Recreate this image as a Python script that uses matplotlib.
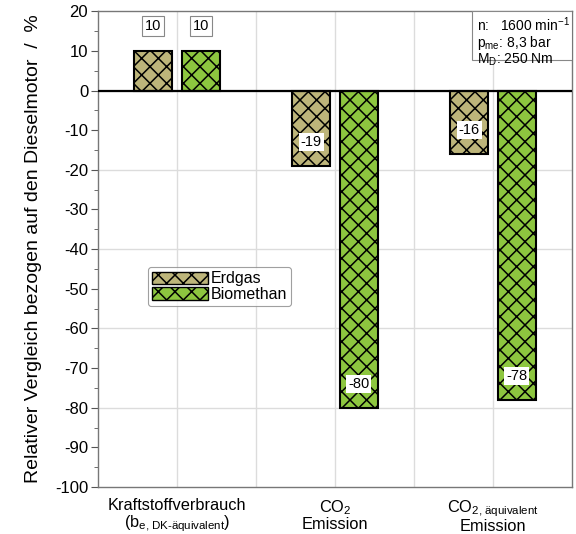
import matplotlib

matplotlib.use("Agg")
import matplotlib.pyplot as plt
from matplotlib.patches import Patch, Rectangle
from matplotlib.ticker import MultipleLocator

categories = [
    "Kraftstoffverbrauch\n(b$_{\\text{e, DK-äquivalent}}$)",
    "CO$_2$\nEmission",
    "CO$_{\\text{2, äquivalent}}$\nEmission",
]
erdgas = [10, -19, -16]
biomethan = [10, -80, -78]
series_names = ["Erdgas", "Biomethan"]
series_colors = ["#bdb57a", "#8dc63f"]

DPI = 100
plt.rcParams["font.family"] = ["Liberation Sans", "DejaVu Sans"]
plt.rcParams["mathtext.fontset"] = "custom"
plt.rcParams["mathtext.rm"] = "Liberation Sans"
plt.rcParams["mathtext.it"] = "Liberation Sans:italic"
plt.rcParams["mathtext.bf"] = "Liberation Sans:bold"
plt.rcParams["axes.unicode_minus"] = False
plt.rcParams["hatch.linewidth"] = 1.1
plt.rcParams["hatch.color"] = "black"

fig = plt.figure(figsize=(576 / DPI, 534 / DPI), dpi=DPI)
ax = fig.add_axes([0.170, 0.088, 0.823, 0.891])

centers = [1, 3, 5]
offset = 0.3
width = 0.48
for vals, name, color, sign in zip([erdgas, biomethan], series_names, series_colors, [-1, 1]):
    xs = [c + sign * offset for c in centers]
    ax.bar(xs, vals, width=width, color=color, edgecolor="black", linewidth=1.5,
           hatch="xx", zorder=3)
    for x, v in zip(xs, vals):
        if v > 0:
            ax.text(x, v + 6.3, str(v), ha="center", va="center", fontsize=10.5, zorder=5,
                    bbox=dict(boxstyle="square,pad=0.2", fc="white", ec="#888888", lw=0.8))
        else:
            ax.text(x, v + 6, str(v), ha="center", va="center", fontsize=10.5, zorder=5,
                    bbox=dict(boxstyle="square,pad=0.12", fc="white", ec="none"))

ax.axhline(0, color="black", linewidth=1.6, zorder=4)

ax.set_xlim(0, 6)
ax.set_ylim(-100, 20)
ax.set_xticks(centers)
ax.set_xticklabels(categories, fontsize=11.8, linespacing=1.05)
ax.tick_params(axis="x", length=0, pad=8)
ax.yaxis.set_major_locator(MultipleLocator(10))
ax.yaxis.set_minor_locator(MultipleLocator(5))
ax.tick_params(axis="y", which="major", length=5, labelsize=12, color="#555555", pad=2)
ax.tick_params(axis="y", which="minor", length=3, color="#555555")

for x in range(1, 6):
    ax.axvline(x, color="#dcdcdc", linewidth=1, zorder=0)
for y in range(-80, 20, 20):
    ax.axhline(y, color="#dcdcdc", linewidth=1, zorder=0)

for s in ax.spines.values():
    s.set_color("#777777")
    s.set_linewidth(1)

ax.set_ylabel("Relativer Vergleich bezogen auf den Dieselmotor  /  %", fontsize=14, labelpad=9)

handles = [Patch(facecolor=c, edgecolor="black", hatch="xx", label=n)
           for c, n in zip(series_colors, series_names)]
leg = ax.legend(handles=handles, loc="upper left", bbox_to_anchor=(0.105, 0.462), fontsize=11.5,
                frameon=True, fancybox=True, edgecolor="#888888", handlelength=3.5,
                handleheight=0.8, labelspacing=0.05, borderpad=0.25, handletextpad=0.2,
                borderaxespad=0)
leg.get_frame().set_linewidth(0.8)

ax.add_patch(Rectangle((0.789, 0.897), 0.211, 0.103, transform=ax.transAxes, fc="white",
                       ec="#888888", lw=0.8, zorder=6))
ax.text(0.799, 0.992, "n:   1600 min$^{-1}$\np$_{\\text{me}}$: 8,3 bar\nM$_\\text{D}$: 250 Nm",
        transform=ax.transAxes, ha="left", va="top", fontsize=10, linespacing=1.0, zorder=7)

fig.savefig("out.png", dpi=DPI)
